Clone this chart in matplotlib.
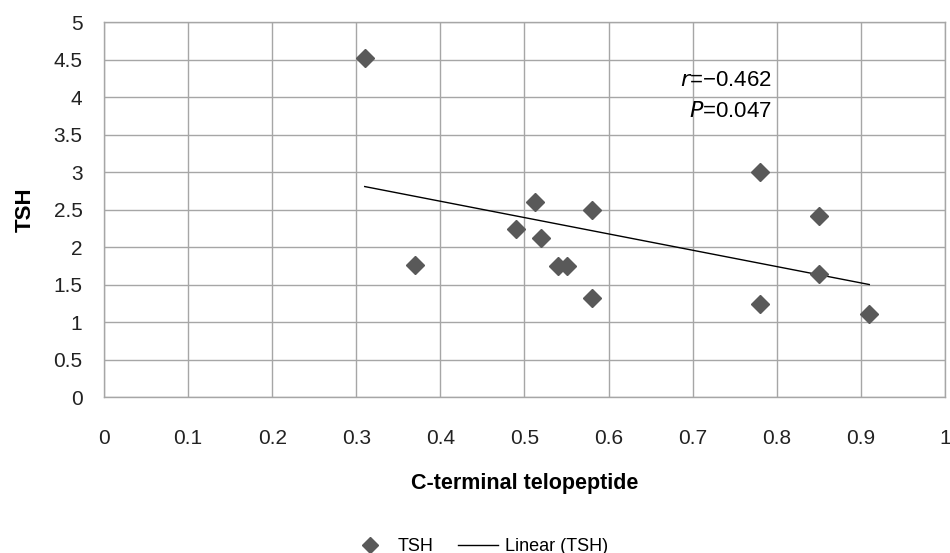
import numpy as np
import matplotlib
matplotlib.use("Agg")
import matplotlib.pyplot as plt
from matplotlib.lines import Line2D

plt.rcParams['font.family'] = ['Liberation Sans', 'DejaVu Sans']

ctx = [0.31, 0.37, 0.49, 0.513, 0.52, 0.54, 0.55, 0.58, 0.58, 0.78, 0.85, 0.85, 0.78, 0.91]
tsh = [4.52, 1.77, 2.25, 2.61, 2.12, 1.75, 1.75, 2.5, 1.32, 3.0, 2.42, 1.64, 1.25, 1.11]
x_ticks = [0, 0.1, 0.2, 0.3, 0.4, 0.5, 0.6, 0.7, 0.8, 0.9, 1]
x_tick_labels = ["0", "0.1", "0.2", "0.3", "0.4", "0.5", "0.6", "0.7", "0.8", "0.9", "1"]
y_ticks = [0, 0.5, 1, 1.5, 2, 2.5, 3, 3.5, 4, 4.5, 5]
y_tick_labels = ["0", "0.5", "1", "1.5", "2", "2.5", "3", "3.5", "4", "4.5", "5"]

fig = plt.figure(figsize=(9.5, 5.53), dpi=100)
ax = fig.add_axes([0.1095, 0.2816, 0.8852, 0.6781])

grid_c = '#a6a6a6'
ax.set_xlim(0, 1)
ax.set_ylim(0, 5)
ax.set_xticks(x_ticks)
ax.set_xticklabels(x_tick_labels)
ax.set_yticks(y_ticks)
ax.set_yticklabels(y_tick_labels)
ax.grid(True, color=grid_c, linewidth=1.0)
ax.set_axisbelow(True)
for s in ax.spines.values():
    s.set_color(grid_c)
    s.set_linewidth(1.0)
ax.tick_params(length=0, labelsize=15, colors='#222222')
ax.tick_params(axis='x', pad=23)
ax.tick_params(axis='y', pad=15.5)

x = np.array(ctx)
y = np.array(tsh)
ax.plot(x, y, linestyle='none', marker='D', markersize=9.5, color='#595959', zorder=3)
m, b = np.polyfit(x, y, 1)
xl = np.array([x.min(), x.max()])
ax.plot(xl, m * xl + b, color='black', linewidth=1.0, zorder=2)

ax.text(0.794, 4.23, r'$\it{r}$' + '=\u22120.462', ha='right', va='center', fontsize=16)
ax.text(0.794, 3.81, r'$\it{P}$' + '=0.047', ha='right', va='center', fontsize=16)

ax.set_xlabel('C-terminal telopeptide', fontsize=15.5, fontweight='bold', labelpad=17.5)
ax.set_ylabel('TSH', fontsize=16, fontweight='bold', labelpad=12.5)

handles = [Line2D([], [], linestyle='none', marker='D', markersize=8, color='#595959'),
           Line2D([], [], color='black', linewidth=1.0)]
fig.legend(handles, ['TSH', 'Linear (TSH)'], loc='center', bbox_to_anchor=(0.5045, 0.012),
           ncol=2, frameon=False, fontsize=13, handlelength=2.2, handletextpad=0.4,
           columnspacing=1.4, borderpad=0)

fig.savefig('out.png', dpi=100)
